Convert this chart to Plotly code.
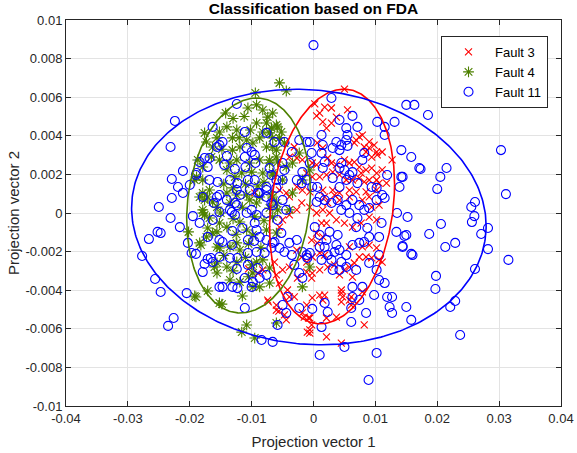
import numpy as np
import plotly.graph_objects as go

# ---------------- data ----------------
fault3_points = [
    (0.0050, 0.00642), (0.0002, 0.00565), (0.0018, 0.00549), (0.0029, 0.00544), (0.0010, 0.00518),
    (0.0005, 0.00503), (0.0055, 0.00534), (0.0029, 0.00466), (0.0021, 0.00440), (0.0015, 0.00472),
    (0.0037, 0.00497), (0.0069, 0.00378), (0.0074, 0.00394), (0.0079, 0.00404), (0.0066, 0.00363),
    (0.0082, 0.00342), (0.0090, 0.00337), (0.0098, 0.00352), (0.0102, 0.00316), (0.0103, 0.00301),
    (0.0111, 0.00316), (0.0090, 0.00368), (0.0085, 0.00316), (0.0094, 0.00290), (0.0127, 0.00275),
    (0.0006, 0.00363), (0.0015, 0.00337), (-0.0031, 0.00342), (-0.0039, 0.00290), (-0.0027, 0.00285),
    (-0.0018, 0.00275), (-0.0002, 0.00259), (0.0005, 0.00249), (0.0023, 0.00285), (0.0029, 0.00259),
    (0.0037, 0.00249), (0.0050, 0.00275), (0.0058, 0.00259), (0.0066, 0.00264), (0.0074, 0.00238),
    (0.0077, 0.00207), (0.0085, 0.00223), (0.0094, 0.00233), (0.0102, 0.00207), (0.0111, 0.00223),
    (-0.0011, 0.00207), (-0.0002, 0.00187), (0.0010, 0.00187), (0.0021, 0.00197), (0.0031, 0.00212),
    (0.0042, 0.00197), (0.0053, 0.00171), (0.0063, 0.00171), (0.0074, 0.00181), (0.0082, 0.00161),
    (0.0090, 0.00171), (0.0102, 0.00171), (0.0106, 0.00155), (0.0118, 0.00155), (-0.0027, 0.00135),
    (-0.0018, 0.00119), (-0.0006, 0.00109), (0.0015, 0.00119), (0.0031, 0.00119), (0.0042, 0.00104),
    (0.0058, 0.00119), (0.0069, 0.00109), (0.0085, 0.00109), (0.0102, 0.00119), (-0.0055, 0.00119),
    (-0.0044, 0.00104), (-0.0039, 0.00083), (0.0018, 0.00083), (0.0023, 0.00052), (0.0034, 0.00093),
    (0.0042, 0.00067), (0.0058, 0.00083), (0.0079, 0.00067), (0.0090, 0.00083), (0.0106, 0.00041),
    (0.0094, 0.00031), (0.0102, -0.00036), (0.0090, -0.00021), (0.0077, -0.00052), (0.0063, -0.00073),
    (0.0050, -0.00052), (0.0037, -0.00036), (0.0026, 0.00000), (0.0015, 0.00016), (0.0005, 0.00000),
    (-0.0006, 0.00031), (-0.0019, 0.00052), (-0.0027, 0.00016), (-0.0039, -0.00010), (-0.0050, -0.00036),
    (-0.0055, -0.00073), (0.0013, -0.00052), (0.0021, -0.00052), (0.0005, -0.00104), (0.0015, -0.00124),
    (-0.0003, -0.00140), (0.0006, -0.00155), (0.0010, -0.00207), (0.0018, -0.00218), (-0.0002, -0.00228),
    (-0.0011, -0.00254), (-0.0019, -0.00228), (-0.0027, -0.00192), (-0.0039, -0.00280), (-0.0050, -0.00295),
    (-0.0063, -0.00254), (-0.0060, -0.00321), (-0.0055, -0.00363), (-0.0026, -0.00337), (-0.0011, -0.00306),
    (-0.0002, -0.00311), (0.0010, -0.00295), (0.0023, -0.00280), (0.0034, -0.00269), (0.0050, -0.00295),
    (0.0058, -0.00280), (0.0066, -0.00259), (0.0074, -0.00228), (0.0085, -0.00228), (0.0094, -0.00233),
    (0.0106, -0.00243), (0.0111, -0.00254), (0.0102, -0.00181), (0.0090, -0.00166), (0.0079, -0.00176),
    (0.0058, -0.00176), (0.0063, -0.00332), (0.0042, -0.00321), (0.0045, -0.00399), (0.0047, -0.00435),
    (0.0045, -0.00461), (0.0061, -0.00435), (0.0079, -0.00409), (0.0061, -0.00477), (0.0037, -0.00539),
    (0.0021, -0.00544), (0.0015, -0.00451), (-0.0002, -0.00440), (-0.0011, -0.00477), (-0.0018, -0.00518),
    (-0.0006, -0.00544), (-0.0003, -0.00580), (-0.0015, -0.00539), (-0.0010, -0.00617), (0.0021, -0.00642),
    (0.0045, -0.00674), (0.0082, -0.00580), (-0.0044, -0.00554), (-0.0047, -0.00528), (-0.0031, -0.00435),
    (-0.0042, -0.00399), (-0.0003, -0.00337), (-0.0073, -0.00461), (-0.0056, -0.00508), (-0.0039, -0.00435),
    (-0.0008, -0.00544), (-0.0006, -0.00606), (-0.0006, -0.00622), (0.0010, -0.00425), (0.0018, -0.00425),
    (0.0045, -0.00415), (0.0058, -0.00451), (-0.0074, -0.00451), (-0.0060, -0.00477), (-0.0060, -0.00503),
    (-0.0105, -0.00290), (-0.0090, -0.00311), (-0.0082, -0.00295), (-0.0095, 0.00104),
]

fault4_points = [
    (-0.0055, 0.00674), (-0.0044, 0.00632), (-0.0094, 0.00622), (-0.0092, 0.00560), (-0.0106, 0.00544),
    (-0.0082, 0.00534), (-0.0142, 0.00518), (-0.0074, 0.00497), (-0.0140, 0.00446), (-0.0124, 0.00430),
    (-0.0152, 0.00420), (-0.0176, 0.00415), (-0.0173, 0.00368), (-0.0092, 0.00466), (-0.0076, 0.00466),
    (-0.0068, 0.00440), (-0.0058, 0.00446), (-0.0156, 0.00389), (-0.0131, 0.00389), (-0.0108, 0.00378),
    (-0.0087, 0.00389), (-0.0066, 0.00389), (-0.0163, 0.00342), (-0.0131, 0.00326), (-0.0119, 0.00342),
    (-0.0098, 0.00363), (-0.0076, 0.00342), (-0.0060, 0.00326), (-0.0187, 0.00275), (-0.0179, 0.00238),
    (-0.0152, 0.00275), (-0.0135, 0.00259), (-0.0124, 0.00275), (-0.0103, 0.00259), (-0.0087, 0.00275),
    (-0.0071, 0.00259), (-0.0058, 0.00264), (-0.0140, 0.00223), (-0.0127, 0.00187), (-0.0116, 0.00207),
    (-0.0100, 0.00212), (-0.0082, 0.00207), (-0.0066, 0.00197), (-0.0192, 0.00171), (-0.0179, 0.00171),
    (-0.0168, 0.00119), (-0.0140, 0.00104), (-0.0124, 0.00093), (-0.0108, 0.00093), (-0.0087, 0.00083),
    (-0.0068, 0.00093), (-0.0189, 0.00187), (-0.0184, 0.00083), (-0.0176, 0.00067), (-0.0179, 0.00016),
    (-0.0176, -0.00010), (-0.0202, -0.00098), (-0.0182, -0.00166), (-0.0171, -0.00078), (-0.0156, -0.00098),
    (-0.0156, -0.00176), (-0.0160, -0.00280), (-0.0156, -0.00311), (-0.0171, -0.00404), (-0.0190, -0.00435),
    (-0.0184, -0.00155), (-0.0173, -0.00124), (-0.0152, -0.00466), (-0.0135, -0.00347), (-0.0119, -0.00358),
    (-0.0115, -0.00430), (-0.0098, -0.00383), (-0.0087, -0.00383), (-0.0179, 0.00104), (-0.0171, 0.00083),
    (-0.0163, 0.00057), (-0.0156, 0.00031), (-0.0179, 0.00000), (-0.0168, -0.00026), (-0.0152, -0.00052),
    (-0.0140, -0.00073), (-0.0163, -0.00104), (-0.0152, -0.00181), (-0.0135, -0.00176), (-0.0124, -0.00155),
    (-0.0119, -0.00192), (-0.0156, -0.00259), (-0.0140, -0.00280), (-0.0124, -0.00254), (-0.0100, -0.00269),
    (-0.0092, -0.00254), (-0.0082, -0.00243), (-0.0071, -0.00285), (-0.0098, -0.00311), (-0.0066, 0.00083),
    (-0.0135, 0.00052), (-0.0119, -0.00047), (-0.0108, -0.00088), (-0.0098, -0.00114), (-0.0076, -0.00088),
    (-0.0060, -0.00104), (-0.0071, 0.00026), (-0.0092, 0.00052), (-0.0103, 0.00067), (-0.0060, 0.00052),
    (-0.0066, -0.00021), (-0.0058, 0.00016), (-0.0039, 0.00016), (-0.0034, 0.00104), (-0.0006, -0.00280),
    (-0.0018, -0.00383), (-0.0060, -0.00570), (-0.0071, -0.00363), (-0.0192, -0.00430), (-0.0148, -0.00472),
    (-0.0108, -0.00580), (-0.0116, -0.00617), (-0.0095, -0.00648), (-0.0066, 0.00518), (-0.0060, 0.00456),
    (-0.0052, 0.00420), (-0.0055, 0.00389), (-0.0071, 0.00415), (-0.0066, 0.00342), (-0.0047, 0.00363),
    (-0.0060, 0.00290), (-0.0071, 0.00275), (-0.0044, 0.00238), (-0.0023, 0.00311), (-0.0034, 0.00259),
    (-0.0066, 0.00207), (-0.0050, 0.00171), (-0.0018, 0.00171), (-0.0006, 0.00223), (-0.0145, 0.00150),
    (-0.0130, 0.00130), (-0.0110, 0.00150), (-0.0090, 0.00140), (-0.0080, 0.00160), (-0.0150, 0.00000),
    (-0.0115, 0.00030), (-0.0095, -0.00020), (-0.0080, -0.00040), (-0.0130, -0.00030), (-0.0125, -0.00110),
    (-0.0105, -0.00160), (-0.0085, -0.00180), (-0.0145, -0.00220), (-0.0110, -0.00230), (-0.0130, -0.00300),
    (-0.0105, -0.00330), (-0.0165, 0.00290), (-0.0148, 0.00330), (-0.0120, 0.00390), (-0.0102, 0.00430),
    (-0.0082, 0.00420), (-0.0112, 0.00500), (-0.0130, 0.00490),
]

fault11_points = [
    (-0.0224, 0.00477), (-0.0231, 0.00342), (-0.0211, 0.00218), (-0.0229, 0.00176), (-0.0219, 0.00135),
    (-0.0211, 0.00104), (-0.0200, 0.00145), (-0.0190, 0.00197), (-0.0229, 0.00078), (-0.0250, 0.00031),
    (-0.0231, -0.00026), (-0.0216, -0.00073), (-0.0195, -0.00016), (-0.0184, -0.00052), (-0.0252, -0.00098),
    (-0.0247, -0.00104), (-0.0266, -0.00135), (-0.0277, -0.00223), (-0.0203, -0.00155), (-0.0197, -0.00207),
    (-0.0190, -0.00212), (-0.0171, -0.00238), (-0.0176, -0.00264), (-0.0179, -0.00306), (-0.0166, -0.00233),
    (-0.0256, -0.00342), (-0.0247, -0.00409), (-0.0205, -0.00415), (-0.0226, -0.00544), (-0.0235, -0.00585),
    (-0.0184, 0.00264), (-0.0176, 0.00285), (-0.0168, 0.00285), (-0.0171, 0.00238), (-0.0189, 0.00207),
    (-0.0179, 0.00083), (-0.0161, 0.00052), (-0.0163, -0.00036), (-0.0171, -0.00124), (-0.0156, 0.00342),
    (-0.0163, 0.00446), (-0.0152, -0.00383),
    (-0.0124, 0.00565), (-0.0111, 0.00420), (-0.0076, 0.00415), (-0.0063, 0.00368), (-0.0147, 0.00368),
    (-0.0152, 0.00352), (-0.0108, 0.00337), (-0.0100, 0.00316), (-0.0095, 0.00301), (-0.0111, 0.00290),
    (-0.0140, 0.00295), (-0.0144, 0.00249), (-0.0127, 0.00228), (-0.0110, 0.00238), (-0.0094, 0.00259),
    (-0.0168, 0.00171), (-0.0155, 0.00161), (-0.0135, 0.00171), (-0.0123, 0.00155), (-0.0106, 0.00171),
    (-0.0095, 0.00171), (-0.0076, 0.00135), (-0.0060, 0.00130), (-0.0124, 0.00119), (-0.0103, 0.00119),
    (-0.0087, 0.00104), (-0.0076, 0.00119),
    (-0.0156, 0.00083), (-0.0152, 0.00093), (-0.0140, 0.00067), (-0.0127, 0.00052), (-0.0119, 0.00093),
    (-0.0152, 0.00005), (-0.0135, 0.00016), (-0.0124, 0.00041), (-0.0132, 0.00005), (-0.0127, -0.00010),
    (-0.0108, 0.00000), (-0.0100, 0.00016), (-0.0092, -0.00010), (-0.0076, 0.00000), (-0.0152, -0.00140),
    (-0.0147, -0.00150), (-0.0131, -0.00093), (-0.0115, -0.00078), (-0.0095, -0.00052), (-0.0092, -0.00088),
    (-0.0087, -0.00124), (-0.0106, -0.00140), (-0.0096, -0.00145), (-0.0076, -0.00140), (-0.0066, -0.00155),
    (-0.0132, -0.00166), (-0.0163, -0.00254), (-0.0152, -0.00228), (-0.0135, -0.00233), (-0.0123, -0.00233),
    (-0.0106, -0.00207), (-0.0092, -0.00202), (-0.0079, -0.00207), (-0.0124, -0.00290), (-0.0106, -0.00269),
    (-0.0090, -0.00285), (-0.0076, -0.00321), (-0.0087, -0.00337), (-0.0111, -0.00337), (-0.0098, -0.00358),
    (-0.0147, -0.00383), (-0.0131, -0.00383), (-0.0123, -0.00389), (-0.0100, -0.00383), (-0.0111, -0.00492),
    (-0.0090, 0.00104), (-0.0076, 0.00083), (-0.0068, 0.00052),
    (0.0029, 0.00596), (0.0150, 0.00560), (0.0163, 0.00560), (0.0063, 0.00503), (0.0042, 0.00482),
    (0.0071, 0.00446), (0.0053, 0.00440), (0.0055, 0.00404), (0.0103, 0.00472), (0.0115, 0.00446),
    (0.0131, 0.00472), (0.0115, 0.00404), (0.0013, 0.00404), (0.0015, 0.00352), (-0.0047, 0.00368),
    (-0.0023, 0.00378), (-0.0011, 0.00368), (-0.0006, 0.00368), (-0.0035, 0.00316), (-0.0050, 0.00259),
    (-0.0047, 0.00223), (0.0037, 0.00368), (0.0045, 0.00352), (0.0031, 0.00337), (0.0042, 0.00326),
    (0.0053, 0.00378), (0.0055, 0.00348), (0.0082, 0.00311), (0.0079, 0.00275), (0.0013, 0.00311),
    (0.0018, 0.00264), (0.0015, 0.00233), (0.0045, 0.00259), (0.0050, 0.00223), (0.0042, 0.00233),
    (0.0063, 0.00212), (0.0058, 0.00197), (0.0142, 0.00326), (0.0158, 0.00290), (0.0171, 0.00233),
    (0.0119, 0.00197), (0.0142, 0.00187), (-0.0003, 0.00311), (-0.0006, 0.00259), (-0.0018, 0.00212),
    (-0.0071, 0.00233), (-0.0068, 0.00197), (-0.0060, 0.00171), (-0.0050, 0.00171), (0.0031, 0.00181),
    (0.0053, 0.00171), (0.0071, 0.00155), (0.0094, 0.00135), (0.0102, 0.00130), (0.0111, 0.00093),
    (0.0042, 0.00135), (-0.0027, 0.00171), (-0.0019, 0.00155), (-0.0011, 0.00171), (-0.0002, 0.00135),
    (0.0006, 0.00135),
    (-0.0066, 0.00041), (-0.0050, 0.00067), (-0.0044, 0.00016), (-0.0058, -0.00036), (-0.0052, -0.00104),
    (-0.0063, -0.00150), (-0.0068, -0.00181), (-0.0055, -0.00181), (-0.0047, -0.00202), (-0.0039, -0.00155),
    (-0.0027, -0.00140), (-0.0035, -0.00218), (-0.0018, -0.00202), (-0.0011, -0.00218), (-0.0006, -0.00207),
    (-0.0010, -0.00233), (-0.0031, -0.00269), (-0.0023, -0.00311), (-0.0018, -0.00337), (-0.0042, -0.00435),
    (-0.0050, -0.00477), (-0.0058, -0.00580), (-0.0023, -0.00492), (-0.0002, -0.00497), (0.0023, -0.00513),
    (0.0018, -0.00466), (0.0013, -0.00591), (0.0010, -0.00736), (0.0050, -0.00694), (0.0102, -0.00725),
    (0.0061, -0.00565), (0.0085, -0.00518), (0.0074, -0.00451), (0.0063, -0.00435), (0.0063, -0.00383),
    (0.0079, -0.00383), (0.0098, -0.00425), (0.0119, -0.00435), (0.0127, -0.00435), (0.0123, -0.00487),
    (0.0127, -0.00518), (0.0150, -0.00487), (0.0158, -0.00554), (0.0160, -0.00218), (0.0144, -0.00176),
    (0.0134, -0.00098), (0.0150, -0.00114), (0.0135, 0.00000), (0.0110, -0.00052), (0.0102, 0.00067),
    (0.0115, 0.00078), (0.0090, 0.00026), (0.0082, 0.00016), (0.0074, 0.00041), (0.0063, 0.00067),
    (0.0053, 0.00041), (0.0039, 0.00067), (0.0029, 0.00052), (0.0018, 0.00067), (0.0010, 0.00083),
    (0.0005, 0.00057), (0.0045, 0.00016), (0.0058, 0.00000), (0.0071, -0.00026), (0.0069, -0.00073),
    (0.0087, -0.00078), (0.0090, -0.00124), (0.0106, -0.00124), (0.0106, -0.00218), (0.0090, -0.00259),
    (0.0102, -0.00295), (0.0106, -0.00347), (0.0115, -0.00363), (0.0069, -0.00295), (0.0053, -0.00280),
    (0.0042, -0.00295), (0.0031, -0.00295), (0.0029, -0.00243), (0.0023, -0.00218), (0.0034, -0.00202),
    (0.0042, -0.00192), (0.0053, -0.00218), (0.0063, -0.00166), (0.0074, -0.00155), (0.0082, -0.00150),
    (0.0039, -0.00114), (0.0026, -0.00098), (0.0010, -0.00114), (0.0021, -0.00140), (0.0018, -0.00176),
    (0.0037, -0.00166), (0.0045, -0.00254), (0.0013, -0.00243), (0.0010, -0.00176), (0.0002, -0.00073),
    (-0.0044, -0.00518), (0.0061, -0.00492), (0.0089, -0.00865), (-0.0084, -0.00658), (-0.0066, -0.00668),
    (0.0185, 0.00508), (0.0173, 0.00228), (0.0215, 0.00233), (0.0205, 0.00187), (0.0303, 0.00326),
    (0.0144, 0.00187), (0.0139, 0.00135), (0.0200, 0.00124), (0.0311, 0.00098), (0.0255, 0.00031),
    (0.0261, 0.00057), (0.0260, -0.00016), (0.0256, -0.00047), (0.0152, -0.00021), (0.0206, -0.00057),
    (0.0187, -0.00109), (0.0147, -0.00119), (0.0144, -0.00171), (0.0158, -0.00212), (0.0213, -0.00176),
    (0.0229, -0.00155), (0.0271, -0.00109), (0.0282, -0.00078), (0.0282, -0.00187), (0.0315, -0.00243),
    (0.0261, -0.00290), (0.0198, -0.00326), (0.0197, -0.00394), (0.0229, -0.00456), (0.0221, -0.00487),
    (0.0237, -0.00632), (0.0000, 0.00870),
]

# Error ellipses: centre, half-width in x, half-height in y, correlation
ellipse_params = {
    "Fault 3":  dict(cx=0.0030, cy=0.00034, sx=0.0101, sy=0.00608, rho=0.19, color="#ff0000"),
    "Fault 4":  dict(cx=-0.0105, cy=0.00039, sx=0.0100, sy=0.00557, rho=0.13, color="#4d8000"),
    "Fault 11": dict(cx=-0.00075, cy=-0.00021, sx=0.02865, sy=0.00662, rho=-0.07, color="#0000ff"),
}

x_ticks = [-0.04, -0.03, -0.02, -0.01, 0.0, 0.01, 0.02, 0.03, 0.04]
x_tick_labels = ["-0.04", "-0.03", "-0.02", "-0.01", "0", "0.01", "0.02", "0.03", "0.04"]
y_ticks = [-0.01, -0.008, -0.006, -0.004, -0.002, 0.0, 0.002, 0.004, 0.006, 0.008, 0.01]
y_tick_labels = ["-0.01", "-0.008", "-0.006", "-0.004", "-0.002", "0", "0.002", "0.004", "0.006", "0.008", "0.01"]

# ---------------- figure ----------------
FONT = "Liberation Sans, Arial, Helvetica, sans-serif"
fig = go.Figure()

def split(points):
    return [p[0] for p in points], [p[1] for p in points]

x3, y3 = split(fault3_points)
x4, y4 = split(fault4_points)
x11, y11 = split(fault11_points)

fig.add_trace(go.Scatter(
    x=x3, y=y3, mode="markers", name="Fault 3",
    marker=dict(symbol="x-thin-open", size=7, color="#ff0000", line=dict(width=1.1, color="#ff0000")),
))
fig.add_trace(go.Scatter(
    x=x4, y=y4, mode="markers", name="Fault 4",
    marker=dict(symbol="asterisk-open", size=9, color="#4d8000", line=dict(width=1.1, color="#4d8000")),
))
fig.add_trace(go.Scatter(
    x=x11, y=y11, mode="markers", name="Fault 11",
    marker=dict(symbol="circle-open", size=9, color="#0000ff", line=dict(width=1.1, color="#0000ff")),
))

t = np.linspace(0, 2 * np.pi, 361)
for name, p in ellipse_params.items():
    ex = p["cx"] + p["sx"] * np.cos(t)
    ey = p["cy"] + p["sy"] * (p["rho"] * np.cos(t) + np.sqrt(1 - p["rho"] ** 2) * np.sin(t))
    fig.add_trace(go.Scatter(
        x=ex, y=ey, mode="lines", showlegend=False, hoverinfo="skip",
        line=dict(color=p["color"], width=1.6),
    ))

axis_common = dict(
    showgrid=True, gridcolor="#e3e3e3", gridwidth=1, zeroline=False,
    showline=True, linecolor="#262626", linewidth=1, mirror="ticks",
    ticks="inside", ticklen=5, tickcolor="#262626", automargin=False,
    tickfont=dict(family=FONT, size=13, color="#262626"),
)

fig.update_layout(
    width=577, height=453,
    margin=dict(l=66, r=16, t=20, b=47, autoexpand=False),
    paper_bgcolor="white", plot_bgcolor="white",
    title=dict(text="<b>Classification based on FDA</b>", x=0.5, xref="paper",
               y=1 - 9 / 453, yref="container", yanchor="middle", xanchor="center",
               font=dict(family=FONT, size=15.5, color="black")),
    xaxis=dict(range=[-0.04, 0.04], tickvals=x_ticks, ticktext=x_tick_labels,
               title=dict(text="Projection vector 1", font=dict(family=FONT, size=15, color="#262626"), standoff=11),
               **axis_common),
    yaxis=dict(range=[-0.01, 0.01], tickvals=y_ticks, ticktext=y_tick_labels,
               title=dict(text="Projection vector 2", font=dict(family=FONT, size=15, color="#262626"), standoff=2),
               **axis_common),
    legend=dict(x=0.7576, y=0.9585, xanchor="left", yanchor="top",
                bgcolor="white", bordercolor="#262626", borderwidth=1,
                font=dict(family=FONT, size=13, color="black"),
                tracegroupgap=0, itemwidth=43),
    showlegend=True,
)

fig.write_html("out.html", config={"displayModeBar": False},
               post_script="document.body.style.margin='0';")
